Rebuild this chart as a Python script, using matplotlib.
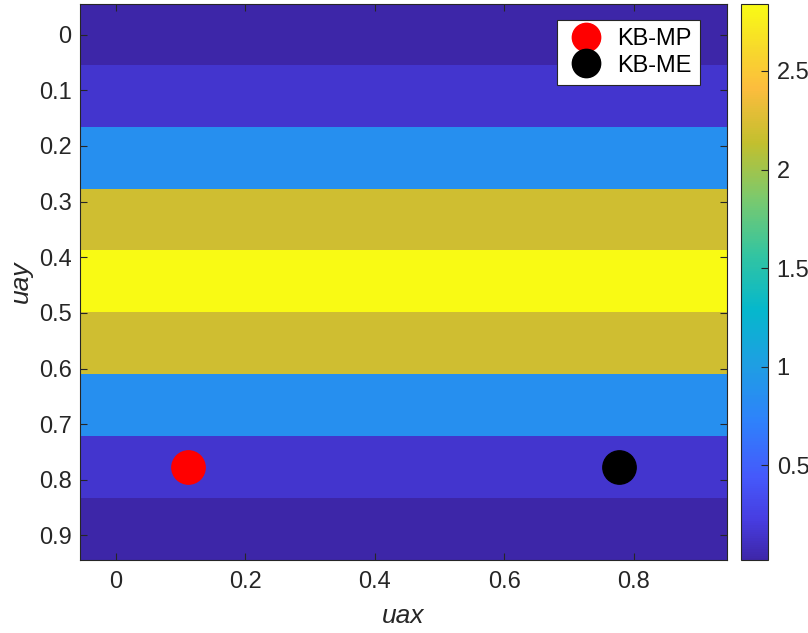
import matplotlib.pyplot as plt
import numpy as np
from matplotlib.colors import LinearSegmentedColormap

# 격자 좌표와 각 행의 값
uax = [0, 1/9, 2/9, 3/9, 4/9, 5/9, 6/9, 7/9, 8/9]
uay = [0, 1/9, 2/9, 3/9, 4/9, 5/9, 6/9, 7/9, 8/9]
row_values = [0.02, 0.16, 0.86, 2.2, 2.84, 2.2, 0.86, 0.16, 0.02]

# 두 점의 위치
mp_x, mp_y = [1/9], [7/9]
me_x, me_y = [7/9], [7/9]

# parula 비슷한 컬러맵
parula_pts = [
    (0.00, (0.2422, 0.1504, 0.6603)),
    (0.07, (0.2780, 0.2370, 0.8800)),
    (0.15, (0.2700, 0.3500, 0.9850)),
    (0.25, (0.1800, 0.5100, 0.9850)),
    (0.35, (0.1200, 0.6200, 0.8900)),
    (0.45, (0.0200, 0.7200, 0.8000)),
    (0.55, (0.2000, 0.7700, 0.6300)),
    (0.65, (0.4800, 0.7900, 0.4300)),
    (0.75, (0.7600, 0.7500, 0.1800)),
    (0.85, (0.9900, 0.7400, 0.2400)),
    (0.92, (0.9700, 0.8500, 0.1700)),
    (1.00, (0.9769, 0.9839, 0.0805)),
]
parula = LinearSegmentedColormap.from_list('parula', parula_pts)

plt.rcParams['font.family'] = ['Liberation Sans', 'DejaVu Sans']
fg = '#262626'

Z = np.tile(np.array(row_values)[:, None], (1, len(uax)))

fig = plt.figure(figsize=(8.08, 6.33), dpi=100)
ax = fig.add_axes([0.099, 0.115, 0.801, 0.879])
cax = fig.add_axes([0.917, 0.115, 0.034, 0.879])

dx = uax[1] - uax[0]
dy = uay[1] - uay[0]
im = ax.imshow(Z, cmap=parula, vmin=0.02, vmax=2.84, aspect='auto',
               extent=[uax[0] - dx/2, uax[-1] + dx/2, uay[-1] + dy/2, uay[0] - dy/2],
               interpolation='nearest')

ax.plot(mp_x, mp_y, 'o', color='red', markersize=24, label='KB-MP')
ax.plot(me_x, me_y, 'o', color='black', markersize=24, label='KB-ME')

ax.set_xticks([0, 0.2, 0.4, 0.6, 0.8])
ax.set_xticklabels(['0', '0.2', '0.4', '0.6', '0.8'])
ax.set_yticks([0, 0.1, 0.2, 0.3, 0.4, 0.5, 0.6, 0.7, 0.8, 0.9])
ax.set_yticklabels(['0', '0.1', '0.2', '0.3', '0.4', '0.5', '0.6', '0.7', '0.8', '0.9'])
ax.tick_params(direction='in', top=True, right=True, labelsize=17,
               colors=fg, length=5, width=0.8, pad=6)
ax.tick_params(axis='x', pad=8)
for s in ax.spines.values():
    s.set_color(fg)
    s.set_linewidth(0.8)

ax.set_xlabel('uax', fontsize=19, style='italic', color=fg, labelpad=8)
ax.set_ylabel('uay', fontsize=19, style='italic', color=fg, labelpad=4)

leg = ax.legend(loc='upper right', fontsize=17, markerscale=0.85,
                handlelength=1.8, handletextpad=0.4, borderpad=0.35,
                labelspacing=0.2, borderaxespad=0.2,
                fancybox=False, framealpha=1, edgecolor=fg,
                bbox_to_anchor=(0.965, 0.98))
leg.get_frame().set_linewidth(0.8)

cb = fig.colorbar(im, cax=cax)
cb.set_ticks([0.5, 1, 1.5, 2, 2.5])
cb.set_ticklabels(['0.5', '1', '1.5', '2', '2.5'])
cax.tick_params(direction='in', labelsize=17, colors=fg, length=5, width=0.8, pad=6)
cb.outline.set_edgecolor(fg)
cb.outline.set_linewidth(0.8)

fig.savefig('out.png', dpi=100)
